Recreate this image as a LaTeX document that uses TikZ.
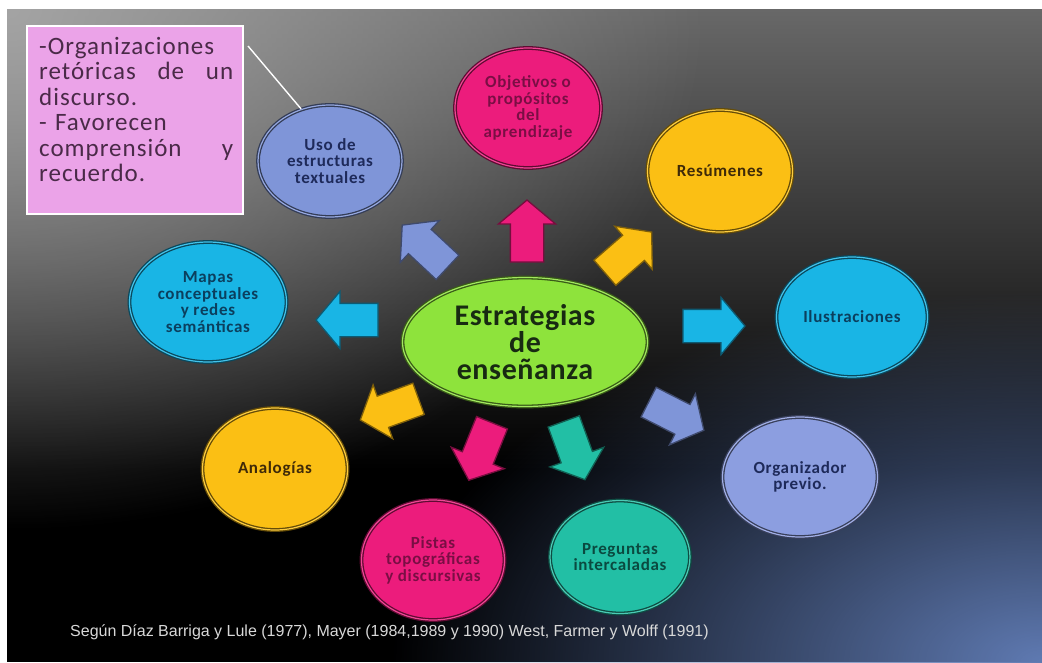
\documentclass[tikz,border=0pt]{standalone}
\usepackage{fontspec}
\setmainfont{Carlito}
\newfontfamily\notefont[LetterSpace=4]{Carlito}
\newfontfamily\bubfont[LetterSpace=4]{Carlito}
\newfontfamily\mainfontls[LetterSpace=2]{Carlito}
\newfontfamily\footfont{Liberation Sans}
\usetikzlibrary{shapes.geometric,shapes.arrows,fadings}

\definecolor{cPink}{HTML}{EC1C7C}
\definecolor{cBlue}{HTML}{7F95D8}
\definecolor{cBlueL}{HTML}{8C9EE0}
\definecolor{cYel}{HTML}{FBBF14}
\definecolor{cCyan}{HTML}{19B5E5}
\definecolor{cTeal}{HTML}{22BFA5}
\definecolor{cGreen}{HTML}{8EE33C}
\definecolor{cBox}{HTML}{EBA3E8}
\definecolor{cBoxTxt}{HTML}{4A2A48}
\definecolor{tBlue}{HTML}{1E2A5A}
\definecolor{tPink}{HTML}{7A0E44}
\definecolor{tBrown}{HTML}{3F2A08}
\definecolor{tCyan}{HTML}{0B3F5E}
\definecolor{tTeal}{HTML}{0A4A40}
\definecolor{tGreen}{HTML}{182A12}
\definecolor{bgTop}{HTML}{686868}
\definecolor{bgGlow}{HTML}{A4A4A4}
\definecolor{bgBlue}{HTML}{5F7AB2}
\definecolor{footTxt}{HTML}{D8D8D8}

\tikzfading[name=glowfade, inner color=transparent!0, outer color=transparent!100]
\newcommand{\justline}[1]{\leavevmode\hbox to 194pt{#1}}

\begin{document}
\begin{tikzpicture}[x=1pt,y=-1pt,
  bubble/.style={ellipse, inner sep=0pt, align=center,
    font=\bubfont\bfseries\fontsize{17}{16.5}\selectfont,
    fill=#1, draw=#1!40!black, double=#1!82!white, double distance=1.2pt, line width=1.3pt},
  barrow/.style={single arrow, minimum height=62pt, inner xsep=0pt, inner ysep=16pt,
    single arrow head extend=12pt, single arrow tip angle=100,
    fill=#1, draw=#1!50!black, line width=1.3pt},
]
\useasboundingbox (0,0) rectangle (1042,662);
\fill[white] (0,0) rectangle (1042,662);
\begin{scope}
  \clip (7,9) rectangle (1042,662);
  \fill[black] (7,9) rectangle (1042,662);
  \shade[top color=bgTop, bottom color=black] (7,9) rectangle (1042,470);
  \fill[bgGlow, path fading=glowfade] (-693,-511) rectangle (707,529);
  \fill[bgBlue, path fading=glowfade] (392,292) rectangle (1692,1032);
\end{scope}

% note box
\node[rectangle, fill=cBox, draw=white, line width=2.5pt, minimum width=216pt, minimum height=188pt, inner sep=0pt] (note) at (135,120) {};
\node[anchor=north west, inner sep=0pt, text width=194pt, align=left, text=cBoxTxt,
      font=\notefont\fontsize{25}{25.5}\selectfont] (notetext) at (39,37)
  {-Organizaciones\\
   \justline{retóricas\hfill de\hfill un}\\
   discurso.\\
   - Favorecen\\
   \justline{comprensión\hfill y}\\
   recuerdo.};

% bubbles
\node[bubble=cBlue, text=tBlue, minimum width=144pt, minimum height=112pt] (uso) at (330,161) {Uso de\\estructuras\\textuales};
\node[bubble=cPink, text=tPink, minimum width=146pt, minimum height=120pt] (obj) at (528,108) {Objetivos o\\propósitos\\del\\aprendizaje};
\node[bubble=cYel, text=tBrown, minimum width=145pt, minimum height=122pt] (res) at (720,171) {Resúmenes};
\node[bubble=cCyan, text=tCyan, minimum width=151pt, minimum height=120pt] (ilu) at (852,317) {Ilustraciones};
\node[bubble=cBlueL, text=tBlue, minimum width=155pt, minimum height=120pt] (org) at (800,477) {Organizador\\previo.};
\node[bubble=cTeal, text=tTeal, minimum width=140pt, minimum height=113pt] (pre) at (620,557) {Preguntas\\intercaladas};
\node[bubble=cPink, text=tPink, minimum width=143pt, minimum height=120pt] (pis) at (433,560) {Pistas\\topográficas\\y discursivas};
\node[bubble=cYel, text=tBrown, minimum width=145pt, minimum height=122pt] (ana) at (275,469) {Analogías};
\node[bubble=cCyan, text=tCyan, minimum width=157pt, minimum height=120pt] (map) at (208,302) {Mapas\\conceptuales\\y redes\\semánticas};

\node[bubble=cGreen, text=tGreen, minimum width=245pt, minimum height=129pt,
      font=\mainfontls\bfseries\fontsize{30}{27}\selectfont] (center) at (525,342) {Estrategias\\de\\enseñanza};

% block arrows
\node[barrow=cPink, rotate=90] (aObj) at (527,238) {};
\node[barrow=cBlue, rotate=137] (aUso) at (430,251) {};
\node[barrow=cYel, rotate=41] (aRes) at (623,257) {};
\node[barrow=cCyan, rotate=0] (aIlu) at (707,326) {};
\node[barrow=cBlue, rotate=-27] (aOrg) at (670,413) {};
\node[barrow=cTeal, rotate=-70] (aPre) at (572,444) {};
\node[barrow=cPink, rotate=-112] (aPis) at (483,445) {};
\node[barrow=cYel, rotate=200] (aAna) at (396,407) {};
\node[barrow=cCyan, rotate=180] (aMap) at (354,320) {};

% pointer line
\coordinate (lnA) at (248,46);
\draw[white, line width=1.4pt] (lnA) -- (uso.119);

% footer
\node[anchor=west, inner sep=0pt, text=footTxt, font=\footfont\fontsize{16}{16}\selectfont] (foot) at (70,632)
  {Según Díaz Barriga y Lule (1977), Mayer (1984,1989 y 1990) West, Farmer y Wolff (1991)};
\end{tikzpicture}
\end{document}
